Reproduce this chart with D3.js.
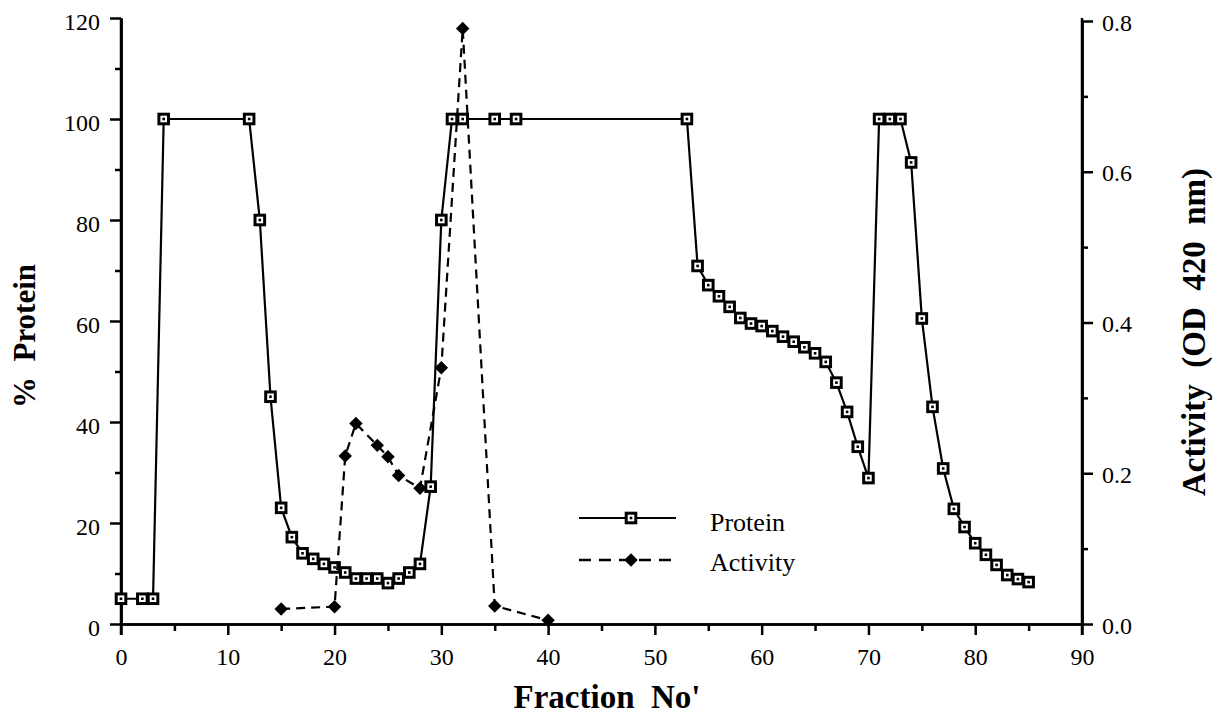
<!DOCTYPE html>
<html><head><meta charset="utf-8">
<script src="https://cdn.jsdelivr.net/npm/d3@7"></script>
<style>body{margin:0;background:#fff}svg{display:block}text.ttl{white-space:pre}</style>
</head><body>
<svg id="c" width="1219" height="715"></svg>
<script>
// Data
const proteinX = [0,2,3,4,12,13,14,15,16,17,18,19,20,21,22,23,24,25,26,27,28,29,30,31,32,35,37,53,54,55,56,57,58,59,60,61,62,63,64,65,66,67,68,69,70,71,72,73,74,75,76,77,78,79,80,81,82,83,84,85];
const proteinY = [5,5,5,100,100,80,45,23,17.2,14,12.9,11.9,11.2,10.2,9,9,9,8.1,9,10.2,11.9,27.2,80,100,100,100,100,100,70.9,67.1,64.9,62.8,60.6,59.5,59,58,56.9,55.9,54.8,53.6,51.9,47.8,42,35.1,28.9,100,100,100,91.4,60.5,43,30.8,22.8,19.2,16,13.7,11.7,9.7,8.9,8.3];
const activityX = [15,20,21,22,24,25,26,28,30,32,35,40];
const activityY = [0.020,0.023,0.223,0.266,0.237,0.222,0.197,0.180,0.340,0.790,0.024,0.005];
const xMajor = [0,10,20,30,40,50,60,70,80,90];
const xMinor = [5,15,25,35,45,55,65,75,85];
const yLeftMajor = [0,20,40,60,80,100,120];
const yLeftMinor = [10,30,50,70,90,110];
const yRightMajor = [0,0.2,0.4,0.6,0.8];
const yRightMinor = [0.1,0.3,0.5,0.7];

const svg = d3.select("#c");
const L = 121, R = 1082, T = 18, B = 624;
const x = d3.scaleLinear().domain([0,90]).range([L,R]);
const yL = d3.scaleLinear().domain([0,120]).range([B,T]);
const yR = d3.scaleLinear().domain([0,0.8]).range([B,T+3]);
const font = "'Liberation Serif','Times New Roman',serif";

function styleAxis(g){
  g.select(".domain").attr("stroke","#000").attr("stroke-width",2.5);
  g.selectAll(".tick line").attr("stroke","#000").attr("stroke-width",2.5);
  g.selectAll("text").attr("font-family",font).attr("font-size",24).attr("fill","#000");
}

// x axis
const gx = svg.append("g").attr("transform",`translate(0,${B})`);
gx.call(d3.axisBottom(x).tickValues(xMinor).tickSize(7).tickFormat("").tickSizeOuter(0));
styleAxis(gx);
const gx2 = svg.append("g").attr("transform",`translate(0,${B})`);
gx2.call(d3.axisBottom(x).tickValues(xMajor).tickSize(11).tickPadding(13).tickSizeOuter(0));
styleAxis(gx2);

// left axis
const gl = svg.append("g").attr("transform",`translate(${L},0)`);
gl.call(d3.axisLeft(yL).tickValues(yLeftMinor).tickSize(6).tickFormat("").tickSizeOuter(0));
styleAxis(gl);
const gl2 = svg.append("g").attr("transform",`translate(${L},0)`);
gl2.call(d3.axisLeft(yL).tickValues(yLeftMajor).tickSize(11).tickPadding(10).tickSizeOuter(0));
styleAxis(gl2);
gl2.selectAll(".tick text").attr("dy","0.48em");

// right axis
const gr = svg.append("g").attr("transform",`translate(${R},0)`);
gr.call(d3.axisRight(yR).tickValues(yRightMinor).tickSize(6).tickFormat("").tickSizeOuter(0));
styleAxis(gr);
const gr2 = svg.append("g").attr("transform",`translate(${R},0)`);
gr2.call(d3.axisRight(yR).tickValues(yRightMajor).tickSize(11).tickPadding(9).tickFormat(d3.format(".1f")).tickSizeOuter(0));
styleAxis(gr2);
gr2.selectAll(".tick text").attr("dy","0.38em");
// extend vertical axes below the x axis
svg.append("line").attr("x1",L).attr("x2",L).attr("y1",T).attr("y2",B+11).attr("stroke","#000").attr("stroke-width",2.5);
svg.append("line").attr("x1",R).attr("x2",R).attr("y1",T).attr("y2",B+11).attr("stroke","#000").attr("stroke-width",2.5);

// Protein line
const pData = proteinX.map((d,i)=>[d,proteinY[i]]);
svg.append("path").datum(pData)
  .attr("d",d3.line().x(d=>x(d[0])).y(d=>yL(d[1])))
  .attr("fill","none").attr("stroke","#000").attr("stroke-width",2.2);
function square(g,cx,cy){
  g.append("rect").attr("x",cx-4.8).attr("y",cy-4.8).attr("width",9.6).attr("height",9.6)
    .attr("fill","#fff").attr("stroke","#000").attr("stroke-width",3);
  g.append("rect").attr("x",cx-1.3).attr("y",cy-1.3).attr("width",2.6).attr("height",2.6).attr("fill","#000");
}
const pm = svg.append("g");
pData.forEach(d=>square(pm,x(d[0]),yL(d[1])));

// Activity line
const aData = activityX.map((d,i)=>[d,activityY[i]]);
svg.append("path").datum(aData)
  .attr("d",d3.line().x(d=>x(d[0])).y(d=>yR(d[1])))
  .attr("fill","none").attr("stroke","#000").attr("stroke-width",2.2).attr("stroke-dasharray","9,6");
const diamond = d3.symbol().type(d3.symbolDiamond2).size(115);
svg.append("g").selectAll("path").data(aData).join("path")
  .attr("transform",d=>`translate(${x(d[0])},${yR(d[1])})`)
  .attr("d",diamond).attr("fill","#000");

// Legend
const lg = svg.append("g");
lg.append("line").attr("x1",579).attr("x2",676).attr("y1",518).attr("y2",518).attr("stroke","#000").attr("stroke-width",2.2);
square(lg,631,518);
lg.append("line").attr("x1",579).attr("x2",676).attr("y1",560).attr("y2",560).attr("stroke","#000").attr("stroke-width",2.4).attr("stroke-dasharray","12,8");
lg.append("path").attr("transform","translate(631,560)").attr("d",diamond).attr("fill","#000");
lg.append("text").attr("x",710).attr("y",531).text("Protein").attr("font-family",font).attr("font-size",26);
lg.append("text").attr("x",710).attr("y",571).text("Activity").attr("font-family",font).attr("font-size",26);

// Axis titles
svg.append("text").attr("class","ttl").attr("x",607).attr("y",708).attr("text-anchor","middle")
  .attr("font-family",font).attr("font-weight","bold").attr("font-size",33).text("Fraction  No'");
svg.append("text").attr("class","ttl").attr("transform","translate(35,336) rotate(-90)").attr("text-anchor","middle")
  .attr("font-family",font).attr("font-weight","bold").attr("font-size",31).text("%  Protein");
svg.append("text").attr("class","ttl").attr("transform","translate(1205,332) rotate(-90)").attr("text-anchor","middle")
  .attr("font-family",font).attr("font-weight","bold").attr("font-size",33).text("Activity  (OD  420  nm)");
</script>
</body></html>
